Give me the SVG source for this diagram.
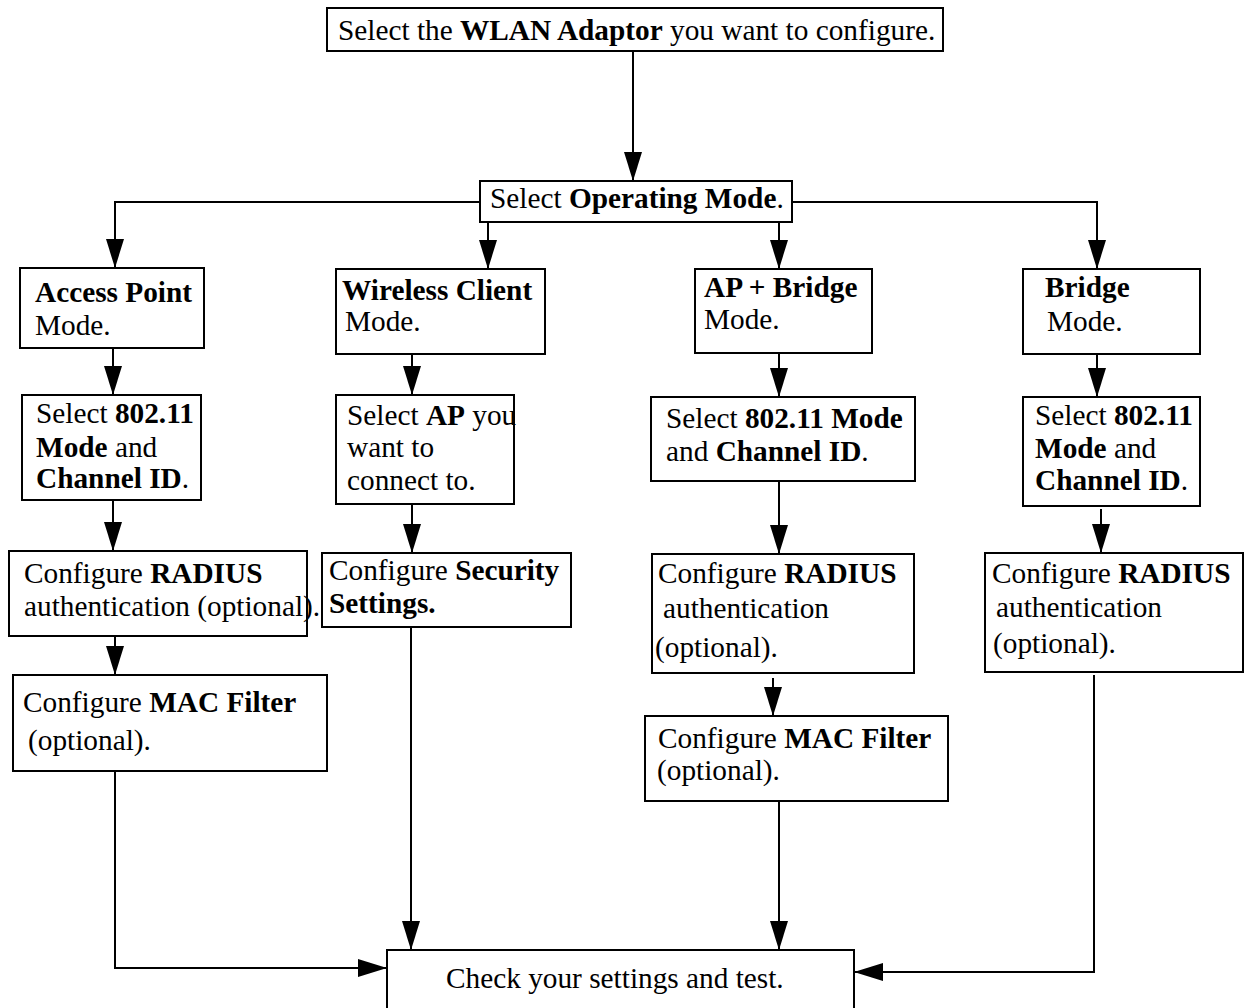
<svg xmlns="http://www.w3.org/2000/svg" width="1245" height="1008" viewBox="0 0 1245 1008">
<style>
.box{fill:#fff;stroke:#000;stroke-width:2}
.t{font-family:"Liberation Serif","Times New Roman",serif;font-size:29.3px;fill:#000}
.b{font-weight:bold}
.c{fill:none;stroke:#000;stroke-width:2}
</style>
<defs>
<marker id="ah" markerUnits="userSpaceOnUse" markerWidth="30" markerHeight="18" viewBox="0 0 30 18" refX="29" refY="9" orient="auto">
<path d="M0,0 L29,9 L0,18 Z" fill="#000"/>
</marker>
</defs>
<g id="connectors">
<path class="c" d="M633,51 V181" marker-end="url(#ah)"/>
<path class="c" d="M480,202 H115 V268" marker-end="url(#ah)"/>
<path class="c" d="M488,222 V269" marker-end="url(#ah)"/>
<path class="c" d="M779,222 V269" marker-end="url(#ah)"/>
<path class="c" d="M792,202 H1097 V269" marker-end="url(#ah)"/>
<path class="c" d="M113,348 V395" marker-end="url(#ah)"/>
<path class="c" d="M412,354 V395" marker-end="url(#ah)"/>
<path class="c" d="M779,353 V397" marker-end="url(#ah)"/>
<path class="c" d="M1097,354 V397" marker-end="url(#ah)"/>
<path class="c" d="M113,500 V551" marker-end="url(#ah)"/>
<path class="c" d="M412,504 V553" marker-end="url(#ah)"/>
<path class="c" d="M779,481 V554" marker-end="url(#ah)"/>
<path class="c" d="M1101,509 V553" marker-end="url(#ah)"/>
<path class="c" d="M115,636 V675" marker-end="url(#ah)"/>
<path class="c" d="M773,678 V716" marker-end="url(#ah)"/>
<path class="c" d="M115,771 V968 H387" marker-end="url(#ah)"/>
<path class="c" d="M411,627 V950" marker-end="url(#ah)"/>
<path class="c" d="M779,801 V950" marker-end="url(#ah)"/>
<path class="c" d="M1094,675 V972 H854" marker-end="url(#ah)"/>
</g>
<g id="n-adaptor">
<rect class="box" x="327" y="8" width="616" height="43"/>
<text class="t" x="338" y="40">Select the <tspan class="b">WLAN Adaptor</tspan> you want to configure.</text>
</g>
<g id="n-opmode">
<rect class="box" x="480" y="181" width="312" height="41"/>
<text class="t" x="490" y="208">Select <tspan class="b">Operating Mode</tspan>.</text>
</g>
<g id="n-ap">
<rect class="box" x="20" y="268" width="184" height="80"/>
<text class="t" x="35" y="302"><tspan class="b">Access Point</tspan></text>
<text class="t" x="35" y="335">Mode.</text>
</g>
<g id="n-wc">
<rect class="box" x="336" y="269" width="209" height="85"/>
<text class="t" x="342" y="300"><tspan class="b">Wireless Client</tspan></text>
<text class="t" x="345" y="331">Mode.</text>
</g>
<g id="n-apb">
<rect class="box" x="695" y="269" width="177" height="84"/>
<text class="t" x="704" y="297"><tspan class="b">AP + Bridge</tspan></text>
<text class="t" x="704" y="329">Mode.</text>
</g>
<g id="n-br">
<rect class="box" x="1023" y="269" width="177" height="85"/>
<text class="t" x="1045" y="297"><tspan class="b">Bridge</tspan></text>
<text class="t" x="1047" y="331">Mode.</text>
</g>
<g id="n-ap-sel">
<rect class="box" x="22" y="395" width="179" height="105"/>
<text class="t" x="36" y="423">Select <tspan class="b">802.11</tspan></text>
<text class="t" x="36" y="457"><tspan class="b">Mode</tspan> and</text>
<text class="t" x="36" y="488"><tspan class="b">Channel ID</tspan>.</text>
</g>
<g id="n-wc-sel">
<rect class="box" x="336" y="395" width="178" height="109"/>
<text class="t" x="347" y="425">Select <tspan class="b">AP</tspan> you</text>
<text class="t" x="347" y="457">want to</text>
<text class="t" x="347" y="490">connect to.</text>
</g>
<g id="n-apb-sel">
<rect class="box" x="651" y="397" width="264" height="84"/>
<text class="t" x="666" y="428">Select <tspan class="b">802.11 Mode</tspan></text>
<text class="t" x="666" y="461">and <tspan class="b">Channel ID</tspan>.</text>
</g>
<g id="n-br-sel">
<rect class="box" x="1023" y="397" width="177" height="109"/>
<text class="t" x="1035" y="425">Select <tspan class="b">802.11</tspan></text>
<text class="t" x="1035" y="458"><tspan class="b">Mode</tspan> and</text>
<text class="t" x="1035" y="490"><tspan class="b">Channel ID</tspan>.</text>
</g>
<g id="n-ap-radius">
<rect class="box" x="9" y="551" width="298" height="85"/>
<text class="t" x="24" y="583">Configure <tspan class="b">RADIUS</tspan></text>
<text class="t" x="24" y="616">authentication (optional).</text>
</g>
<g id="n-wc-sec">
<rect class="box" x="322" y="553" width="249" height="74"/>
<text class="t" x="329" y="580">Configure <tspan class="b">Security</tspan></text>
<text class="t b" x="329" y="613">Settings.</text>
</g>
<g id="n-apb-radius">
<rect class="box" x="652" y="554" width="262" height="119"/>
<text class="t" x="658" y="583">Configure <tspan class="b">RADIUS</tspan></text>
<text class="t" x="663" y="618">authentication</text>
<text class="t" x="655" y="657">(optional).</text>
</g>
<g id="n-br-radius">
<rect class="box" x="985" y="553" width="258" height="119"/>
<text class="t" x="992" y="583">Configure <tspan class="b">RADIUS</tspan></text>
<text class="t" x="996" y="617">authentication</text>
<text class="t" x="993" y="653">(optional).</text>
</g>
<g id="n-ap-mac">
<rect class="box" x="13" y="675" width="314" height="96"/>
<text class="t" x="23" y="712">Configure <tspan class="b">MAC Filter</tspan></text>
<text class="t" x="28" y="750">(optional).</text>
</g>
<g id="n-apb-mac">
<rect class="box" x="645" y="716" width="303" height="85"/>
<text class="t" x="658" y="748">Configure <tspan class="b">MAC Filter</tspan></text>
<text class="t" x="657" y="780">(optional).</text>
</g>
<g id="n-check">
<rect class="box" x="387" y="950" width="467" height="64"/>
<text class="t" x="446" y="988">Check your settings and test.</text>
</g>
</svg>
